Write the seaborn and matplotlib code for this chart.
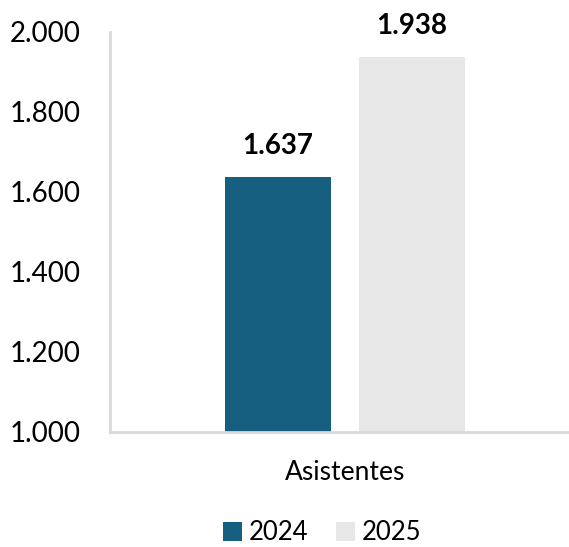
import matplotlib.pyplot as plt
import matplotlib.ticker as ticker
import pandas as pd
import seaborn as sns

# Data
categories = ["Asistentes"]
years = ["2024", "2025"]
values = [1637, 1938]
colors = ["#175f80", "#e7e7e7"]
y_ticks = [1000, 1200, 1400, 1600, 1800, 2000]

df = pd.DataFrame({
    "categoria": categories * len(years),
    "anio": years,
    "valor": values,
})

sns.set_style("white")
plt.rcParams["font.family"] = ["Lato", "DejaVu Sans"]
plt.rcParams["text.color"] = "black"
plt.rcParams["xtick.labelcolor"] = "black"
plt.rcParams["ytick.labelcolor"] = "black"

fig = plt.figure(figsize=(5.69, 5.47), dpi=100)
ax = fig.add_axes([110 / 569, 115 / 547, 459 / 569, 400 / 547])

sns.barplot(
    data=df, x="categoria", y="valor", hue="anio",
    palette=colors, width=268 / 459, gap=0.21, linewidth=0,
    ax=ax, legend=True, saturation=1,
)

ax.set_xlim(-235 / 459, 224 / 459)
ax.set_ylim(1000, 2000)
ax.set_yticks(y_ticks)
ax.yaxis.set_major_formatter(
    ticker.FuncFormatter(lambda v, _: f"{int(v):,}".replace(",", "."))
)

for container in ax.containers:
    ax.bar_label(
        container,
        labels=[f"{int(v):,}".replace(",", ".") for v in container.datavalues],
        padding=13, fontsize=20, fontweight="bold", color="black", clip_on=False,
    )

for side in ["top", "right"]:
    ax.spines[side].set_visible(False)
for side in ["left", "bottom"]:
    ax.spines[side].set_color("#d9d9d9")
    ax.spines[side].set_linewidth(2)

ax.tick_params(axis="y", direction="in", length=6, width=2, color="#d9d9d9",
               labelsize=20, pad=21, labelcolor="black")
ax.tick_params(axis="x", length=0, labelsize=19, pad=20, labelcolor="black")
ax.set_xlabel("")
ax.set_ylabel("")

handles, labels = ax.get_legend_handles_labels()
ax.get_legend().remove()
fig.legend(
    handles, labels, loc="center", bbox_to_anchor=(322 / 569, 1 - 533 / 547),
    ncol=2, frameon=False, fontsize=18.5, handlelength=0.75, handleheight=0.75,
    handletextpad=0.25, columnspacing=1.1,
)

fig.savefig("out.png", dpi=100)
